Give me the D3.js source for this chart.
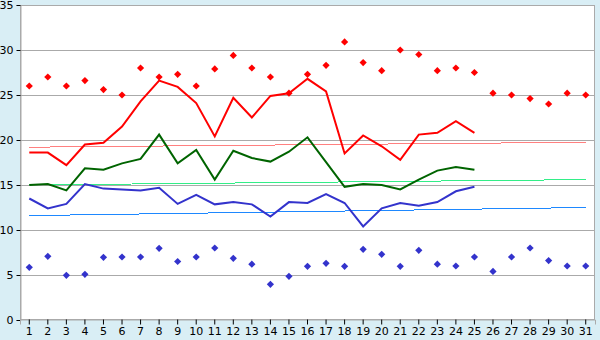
<!DOCTYPE html>
<html>
<head>
<meta charset="utf-8">
<title>temperature chart</title>
<script src="https://d3js.org/d3.v7.min.js"></script>
<style>
  body { margin: 0; background: #d9eef5; }
  text { font-family: "DejaVu Sans", sans-serif; font-size: 11px; fill: #000; }
</style>
</head>
<body>
<script>
const width = 600, height = 340;
const marginTop = 5, marginRight = 5, marginBottom = 20, marginLeft = 20;

// data
const days = d3.range(1, 32);
const recordMax = [26.0, 27.0, 26.0, 26.6, 25.6, 25.0, 28.0, 27.0, 27.3, 26.0,
  27.9, 29.4, 28.0, 27.0, 25.2, 27.3, 28.3, 30.9, 28.6, 27.7,
  30.0, 29.5, 27.7, 28.0, 27.5, 25.2, 25.0, 24.6, 24.0, 25.2, 25.0];
const maxTemp = [18.6, 18.6, 17.2, 19.5, 19.7, 21.5, 24.3, 26.6, 25.9, 24.1,
  20.4, 24.7, 22.5, 24.9, 25.2, 26.8, 25.4, 18.5, 20.5, 19.3,
  17.8, 20.6, 20.8, 22.1, 20.8];
const meanTemp = [15.0, 15.1, 14.4, 16.85, 16.7, 17.4, 17.9, 20.6, 17.4, 18.9,
  15.6, 18.8, 18.0, 17.6, 18.7, 20.3, 17.55, 14.8, 15.1, 15.0,
  14.5, 15.6, 16.6, 17.0, 16.7];
const minTemp = [13.5, 12.4, 12.9, 15.1, 14.6, 14.5, 14.4, 14.7, 12.9, 13.9,
  12.85, 13.1, 12.85, 11.5, 13.1, 13.0, 14.0, 13.0, 10.4, 12.4,
  13.0, 12.7, 13.1, 14.3, 14.8];
const recordMin = [5.85, 7.07, 4.96, 5.07, 6.96, 7.0, 7.0, 7.96, 6.5, 7.0,
  8.0, 6.85, 6.2, 3.96, 4.85, 5.96, 6.3, 5.96, 7.85, 7.3,
  5.96, 7.74, 6.2, 6.0, 7.0, 5.4, 7.0, 8.0, 6.6, 6.0, 6.0];
// normal (trend) lines: value on day 1 and day 31
const normalMax = [19.2, 19.75];
const normalMean = [15.0, 15.6];
const normalMin = [11.6, 12.5];
const yTicks = [0, 5, 10, 15, 20, 25, 30, 35];

const svg = d3.select("body").append("svg")
  .attr("width", width).attr("height", height);

const x = d3.scaleBand().domain(days).range([marginLeft, width - marginRight]);
const cx = d => x(d) + x.bandwidth() / 2;
const y = d3.scaleLinear().domain([0, 35]).range([height - marginBottom, marginTop]);

// plot background
svg.append("rect")
  .attr("x", marginLeft).attr("y", marginTop)
  .attr("width", width - marginLeft - marginRight)
  .attr("height", height - marginTop - marginBottom)
  .attr("fill", "#fff");

// grid
svg.append("g").selectAll("line").data(yTicks.slice(1)).join("line")
  .attr("x1", marginLeft).attr("x2", width - marginRight)
  .attr("y1", d => Math.round(y(d)) + 0.5).attr("y2", d => Math.round(y(d)) + 0.5)
  .attr("stroke", "#aaa");

// border
svg.append("rect")
  .attr("x", marginLeft + 0.5).attr("y", marginTop + 0.5)
  .attr("width", width - marginLeft - marginRight - 1)
  .attr("height", height - marginTop - marginBottom - 1)
  .attr("fill", "none").attr("stroke", "#aaa");

// axes
const yAxis = svg.append("g")
  .attr("transform", `translate(${marginLeft + 0.5},0)`)
  .call(d3.axisLeft(y).tickValues(yTicks).tickSize(4).tickPadding(3));
const xAxis = svg.append("g")
  .attr("transform", `translate(0,${height - marginBottom - 0.5})`)
  .call(d3.axisBottom(x).tickSize(5).tickPadding(3));
[yAxis, xAxis].forEach(g => {
  g.select(".domain").attr("stroke", "#aaa");
  g.selectAll(".tick line").attr("stroke", "#000");
  g.selectAll("text").attr("font-size", 11).attr("font-family", "DejaVu Sans");
});

// trend lines
const trend = (vals, color) => {
  svg.append("line")
    .attr("x1", cx(1)).attr("x2", cx(31))
    .attr("y1", y(vals[0])).attr("y2", y(vals[1]))
    .attr("stroke", color).attr("stroke-width", 1)
    .attr("shape-rendering", "crispEdges");
};
trend(normalMax, "#ff8080");
trend(normalMean, "#33ee88");
trend(normalMin, "#1e88ff");

// record points (small square turned 45 degrees)
const diamond = d3.symbol().type(d3.symbolSquare).size(26);
const points = (vals, color) => {
  svg.append("g").selectAll("path").data(vals).join("path")
    .attr("d", diamond)
    .attr("transform", (d, i) => `translate(${cx(days[i])},${y(d)}) rotate(45)`)
    .attr("fill", color);
};
points(recordMax, "#ff0000");
points(recordMin, "#3333cc");

// lines
const line = d3.line().x((d, i) => cx(days[i])).y(d => y(d));
const series = (vals, color) => {
  svg.append("path").datum(vals)
    .attr("d", line).attr("fill", "none")
    .attr("stroke", color).attr("stroke-width", 2);
};
series(minTemp, "#3333cc");
series(meanTemp, "#006400");
series(maxTemp, "#ff0000");
</script>
</body>
</html>
